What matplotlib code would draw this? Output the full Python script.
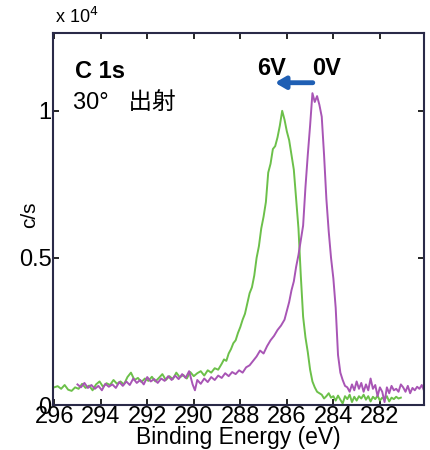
import numpy as np
import matplotlib.pyplot as plt

plt.rcParams['font.family'] = ['Liberation Sans', 'Noto Sans CJK JP', 'DejaVu Sans']

# ===================== DATA (intensity in 1e4 c/s) =====================
e_6v = [296.00, 295.85, 295.70, 295.55, 295.40, 295.25, 295.10, 294.95, 294.80, 294.65,
        294.50, 294.35, 294.20, 294.05, 293.90, 293.75, 293.60, 293.45, 293.30, 293.15,
        293.00, 292.85, 292.70, 292.55, 292.40, 292.25, 292.10, 291.95, 291.80, 291.65,
        291.50, 291.35, 291.20, 291.05, 290.90, 290.75, 290.60, 290.45, 290.30, 290.15,
        290.00, 289.85, 289.70, 289.55, 289.40, 289.25, 289.10, 288.95, 288.80, 288.70,
        288.60, 288.50, 288.40, 288.30, 288.20, 288.10, 288.00, 287.90, 287.80, 287.70,
        287.60, 287.50, 287.40, 287.30, 287.20, 287.10, 287.00, 286.90, 286.80, 286.70,
        286.60, 286.50, 286.40, 286.30, 286.20, 286.10, 286.00, 285.90, 285.80, 285.70,
        285.60, 285.50, 285.40, 285.30, 285.20, 285.10, 285.00, 284.90, 284.80, 284.70,
        284.60, 284.50, 284.40, 284.30, 284.20, 284.10, 284.00, 283.90, 283.80, 283.70,
        283.60, 283.50, 283.40, 283.30, 283.20, 283.10, 283.00, 282.90, 282.80, 282.70,
        282.60, 282.50, 282.40, 282.30, 282.20, 282.10, 282.00, 281.90, 281.80, 281.70,
        281.60, 281.50, 281.40, 281.30, 281.20, 281.10]
i_6v = [0.060, 0.064, 0.055, 0.068, 0.052, 0.048, 0.060, 0.055, 0.072, 0.058,
        0.066, 0.050, 0.070, 0.080, 0.062, 0.074, 0.068, 0.085, 0.072, 0.080,
        0.070, 0.095, 0.110, 0.085, 0.092, 0.078, 0.090, 0.082, 0.096, 0.080,
        0.092, 0.105, 0.085, 0.098, 0.088, 0.110, 0.094, 0.102, 0.090, 0.112,
        0.098, 0.108, 0.115, 0.100, 0.118, 0.110, 0.125, 0.120, 0.140, 0.155,
        0.150, 0.175, 0.190, 0.210, 0.220, 0.245, 0.265, 0.290, 0.310, 0.345,
        0.380, 0.400, 0.440, 0.500, 0.540, 0.600, 0.640, 0.690, 0.790, 0.820,
        0.870, 0.880, 0.910, 0.950, 1.000, 0.970, 0.930, 0.900, 0.850, 0.800,
        0.700, 0.600, 0.440, 0.300, 0.230, 0.180, 0.120, 0.080, 0.060, 0.045,
        0.040, 0.035, 0.022, 0.030, 0.040, 0.025, 0.030, 0.015, 0.032, 0.018,
        0.005, 0.030, 0.020, 0.035, 0.010, 0.028, 0.015, 0.030, 0.022, 0.035,
        0.018, 0.030, 0.012, 0.028, 0.020, 0.032, 0.015, 0.025, 0.018, 0.030,
        0.012, 0.025, 0.020, 0.028, 0.022, 0.025]

e_0v = [295.00, 294.85, 294.70, 294.55, 294.40, 294.25, 294.10, 293.95, 293.80, 293.65,
        293.50, 293.35, 293.20, 293.05, 292.90, 292.75, 292.60, 292.45, 292.30, 292.15,
        292.00, 291.85, 291.70, 291.55, 291.40, 291.25, 291.10, 290.95, 290.80, 290.65,
        290.50, 290.35, 290.20, 290.05, 289.95, 289.85, 289.70, 289.55, 289.40, 289.25,
        289.10, 288.95, 288.80, 288.65, 288.50, 288.35, 288.20, 288.05, 287.90, 287.75,
        287.60, 287.45, 287.30, 287.15, 287.00, 286.85, 286.70, 286.55, 286.40, 286.25,
        286.10, 286.00, 285.90, 285.80, 285.70, 285.60, 285.50, 285.40, 285.30, 285.20,
        285.10, 285.00, 284.90, 284.80, 284.70, 284.60, 284.50, 284.40, 284.30, 284.20,
        284.10, 284.00, 283.90, 283.80, 283.70, 283.60, 283.50, 283.40, 283.30, 283.20,
        283.10, 283.00, 282.90, 282.80, 282.70, 282.60, 282.50, 282.40, 282.30, 282.20,
        282.10, 282.00, 281.90, 281.80, 281.70, 281.60, 281.50, 281.40, 281.30, 281.20,
        281.10, 281.00, 280.90, 280.80, 280.70, 280.60, 280.50, 280.40, 280.30, 280.20,
        280.10]
i_0v = [0.070, 0.060, 0.075, 0.058, 0.068, 0.055, 0.065, 0.050, 0.072, 0.062,
        0.070, 0.058, 0.078, 0.065, 0.080, 0.068, 0.090, 0.075, 0.085, 0.070,
        0.095, 0.080, 0.088, 0.075, 0.090, 0.082, 0.098, 0.085, 0.100, 0.088,
        0.105, 0.092, 0.115, 0.070, 0.050, 0.085, 0.072, 0.090, 0.078, 0.095,
        0.085, 0.100, 0.092, 0.108, 0.098, 0.112, 0.105, 0.118, 0.110, 0.128,
        0.135, 0.150, 0.165, 0.185, 0.175, 0.200, 0.220, 0.235, 0.255, 0.270,
        0.290, 0.320, 0.350, 0.390, 0.420, 0.470, 0.510, 0.560, 0.610, 0.740,
        0.850, 0.950, 1.060, 1.030, 1.050, 1.020, 0.980, 0.850, 0.700, 0.590,
        0.500, 0.430, 0.330, 0.170, 0.110, 0.085, 0.065, 0.060, 0.045, 0.070,
        0.050, 0.080, 0.055, 0.075, 0.045, 0.070, 0.050, 0.090, 0.055, 0.068,
        0.030, 0.060, 0.045, 0.010, 0.060, 0.040, 0.065, 0.050, 0.055, 0.045,
        0.070, 0.060, 0.045, 0.065, 0.040, 0.058, 0.050, 0.062, 0.055, 0.068,
        0.048]

x_ticks = [296, 294, 292, 290, 288, 286, 284, 282]
y_ticks = [0, 0.5, 1]
y_tick_labels = ["0", "0.5", "1"]

GREEN = "#6cc04a"
PURPLE = "#a855b5"
AXIS = "#2a2a48"

# ===================== FIGURE =====================
fig = plt.figure(figsize=(4.31, 4.50), dpi=100)
ax = fig.add_axes([0.123, 0.100, 0.861, 0.827])

ax.plot(e_6v, i_6v, color=GREEN, lw=1.4)
ax.plot(e_0v, i_0v, color=PURPLE, lw=1.4)

ax.set_xlim(296.05, 280.1)
ax.set_ylim(0, 1.265)
ax.set_xticks(x_ticks)
ax.set_yticks(y_ticks)
ax.set_yticklabels(y_tick_labels)
ax.tick_params(direction="in", length=4, width=1.2, colors="black", labelsize=17,
               top=True, right=True)
ax.tick_params(axis="x", pad=1)
ax.tick_params(axis="y", pad=1)
for s in ax.spines.values():
    s.set_color(AXIS)
    s.set_linewidth(1.5)

ax.set_xlabel("Binding Energy (eV)", fontsize=16.5)
ax.xaxis.set_label_coords(0.5, -0.088)
ax.xaxis.label.set_va("center")
ax.set_ylabel("c/s", fontsize=15)
ax.yaxis.set_label_coords(-0.062, 0.51)
ax.yaxis.label.set_va("center")

fig.text(0.128, 0.962, "x 10$^4$", fontsize=13, ha="left", va="center")

# peak labels
ax.text(0.058, 0.895, "C 1s", transform=ax.transAxes, fontsize=17, fontweight="bold",
        ha="left", va="center")
ax.text(0.055, 0.812, "30°   出射", transform=ax.transAxes, fontsize=17,
        ha="left", va="center")

ax.text(0.550, 0.905, "6V", transform=ax.transAxes, fontsize=17, fontweight="bold",
        ha="left", va="center")
ax.text(0.698, 0.905, "0V", transform=ax.transAxes, fontsize=17, fontweight="bold",
        ha="left", va="center")
ax.annotate("", xy=(0.598, 0.866), xytext=(0.70, 0.866), xycoords="axes fraction",
            arrowprops=dict(arrowstyle="-|>,head_width=0.35,head_length=0.6",
                            color="#1f5fb4", lw=3.5, shrinkA=0, shrinkB=0))

fig.savefig("out.png", dpi=100)
